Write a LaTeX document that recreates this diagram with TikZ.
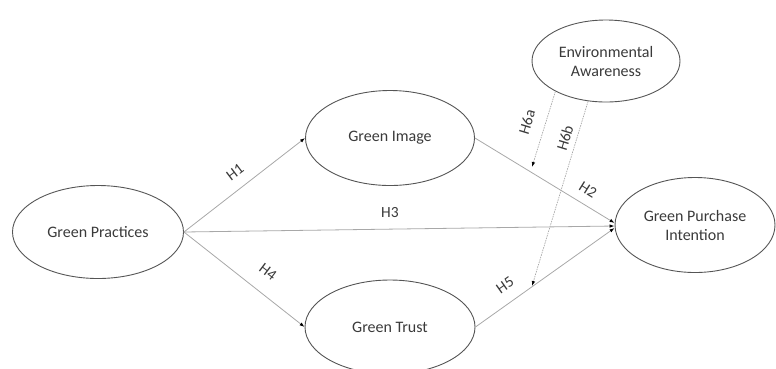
\documentclass[tikz,border=0pt]{standalone}
\usepackage{fontspec}
\setmainfont{Carlito}
\usetikzlibrary{arrows.meta,calc,shapes.geometric}
\definecolor{txt}{HTML}{3A3A3A}
\definecolor{edge}{HTML}{555555}
\definecolor{conn}{HTML}{A8A8A8}
\begin{document}
\begin{tikzpicture}[x=1pt,y=-1pt,
  var/.style={draw=edge,line width=0.9pt,ellipse,inner sep=0pt,text=txt,font=\fontsize{16}{19}\selectfont,align=center},
  link/.style={draw=conn,line width=0.8pt,-{Latex[length=5pt,width=3.5pt,black]}},
  mod/.style={draw=conn,line width=0.7pt,dash pattern=on 1.5pt off 1pt,-{Latex[length=5pt,width=3.5pt,black]}},
  hlab/.style={text=txt,font=\fontsize{15.5}{18}\selectfont,inner sep=1pt}
]
\useasboundingbox (0,0) rectangle (776,368);
\begin{scope}
\clip (0,0) rectangle (776,368);
\node[var,minimum width=171pt,minimum height=93pt] (gp) at (98,232) {Green Practices};
\node[var,minimum width=169pt,minimum height=95pt] (gi) at (390,138) {Green Image};
\node[var,minimum width=170pt,minimum height=94pt] (gt) at (390,327) {Green Trust};
\node[var,minimum width=160pt,minimum height=95pt] (gpi) at (695,225) {Green Purchase\\Intention};
\node[var,minimum width=148pt,minimum height=82pt] (ea) at (606,61) {Environmental\\Awareness};

\coordinate (m1) at (532,167);
\coordinate (m2) at (532,286);

\draw[link] (gp.east) -- (gi.west);
\draw[link] (gp.east) -- ($(gpi.west)+(0,1)$);
\draw[link] (gp.east) -- (gt.west);
\draw[link] (gi.east) -- ($(gpi.west)+(0,-2)$);
\draw[link] (gt.east) -- ($(gpi.west)+(0,3)$);
\draw[mod] (ea.211) -- (m1);
\draw[mod] (ea.246) -- (m2);

\node[hlab,rotate=37] (h1) at (235,172) {H1};
\node[hlab] (h3) at (390,213) {H3};
\node[hlab,rotate=-37] (h4) at (268,272) {H4};
\node[hlab,rotate=-32] (h2) at (588,190) {H2};
\node[hlab,rotate=35] (h5) at (505,285) {H5};
\node[hlab,rotate=73] (h6a) at (527,122) {H6a};
\node[hlab,rotate=73] (h6b) at (565,138) {H6b};
\end{scope}
\end{tikzpicture}
\end{document}
